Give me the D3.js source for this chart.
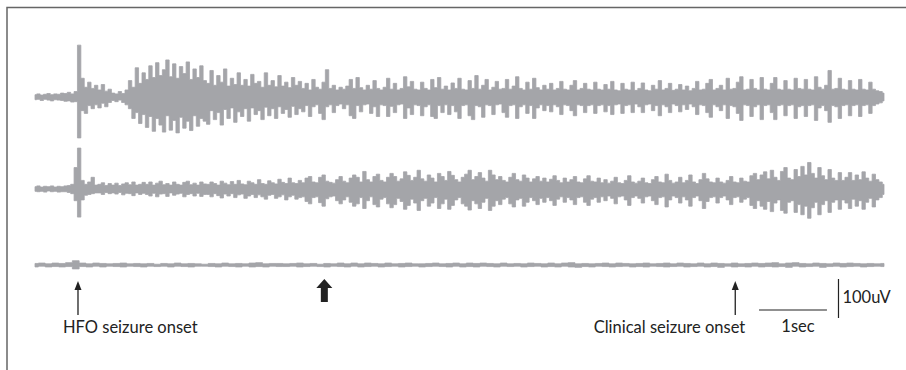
<!DOCTYPE html>
<html>
<head>
<meta charset="utf-8">
<script src="https://cdn.jsdelivr.net/npm/d3@7"></script>
<style>
  html, body { margin: 0; padding: 0; background: #fff; }
  svg { display: block; }
</style>
</head>
<body>
<div id="chart"></div>
<script>
// sampled envelope of each trace (uV above / below baseline), one value every dt seconds
const dt = 0.05;
const ch1Upper = [6, 8, 5, 7, 9, 6, 8, 7, 10, 9, 12, 8, 14, 133,
  48, 25, 38, 22, 30, 18, 32, 15, 20, 10, 8, 14, 9, 18, 42, 25, 75, 35, 62,
  45, 80, 50, 88, 55, 70, 95, 52, 85, 48, 78, 60, 90, 45, 72, 50, 80, 42,
  35, 68, 30, 55, 38, 72, 28, 48, 32, 62, 30, 45, 28, 58, 35, 40, 25, 62, 30, 42, 26, 55, 28, 38, 24, 50, 30, 40,
  22, 35, 18, 45, 25, 20, 38, 70, 22, 30, 18, 25,
  20, 28, 45, 22, 50, 24, 18, 30, 20, 42, 22, 18,
  25, 48, 20, 35, 18, 22, 52, 26, 40, 20, 18, 38,
  22, 18, 45, 24, 50, 20, 28, 18, 36, 22, 48, 20,
  18, 42, 22, 55, 20, 30, 45, 18, 25, 40, 20, 22,
  45, 20, 28, 52, 22, 18, 38, 20, 48, 24, 18, 30,
  20, 35, 18, 22, 40, 20, 18, 30, 42, 18, 22, 35, 20, 18, 38, 20,
  18, 32, 20, 40, 18, 16, 35, 20, 18, 38, 17, 22,
  36, 18, 16, 30, 20, 42, 18, 22, 35, 17, 20, 32,
  18, 28, 16, 22, 40, 18, 20, 35, 45, 18, 22, 30,
  18, 48, 20, 22, 38, 52, 18, 20, 45, 22, 18, 50,
  20, 18, 35, 50, 20, 18, 42, 20, 18, 48, 22, 20,
  45, 20, 18, 52, 25, 20, 30, 68, 20, 22, 48, 20,
  18, 42, 20, 18, 45, 20, 18, 38, 20, 16, 14, 10];
const ch1Lower = [7, 6, 9, 6, 8, 10, 7, 8, 9, 11, 10, 13, 12, 105,
  35, 42, 22, 30, 20, 28, 16, 25, 14, 9, 12, 8, 14, 20, 30, 55, 40, 68, 45,
  78, 50, 88, 55, 72, 90, 48, 85, 60, 92, 52, 80, 62, 86, 48, 75, 55, 62,
  70, 35, 58, 40, 72, 32, 55, 28, 65, 38, 50, 30, 62, 28, 45, 35, 58, 26, 48, 30, 55, 25, 42, 32, 52, 24, 45, 30,
  38, 22, 50, 25, 20, 42, 58, 25, 20, 40, 22, 18,
  30, 20, 48, 55, 22, 38, 20, 18, 42, 25, 50, 20,
  22, 50, 24, 40, 20, 18, 55, 28, 45, 20, 22, 48,
  25, 20, 50, 55, 22, 40, 20, 45, 22, 38, 55, 22,
  20, 48, 58, 22, 25, 52, 20, 22, 45, 20, 18, 40,
  52, 22, 20, 55, 25, 20, 42, 22, 55, 28, 20, 35,
  22, 38, 20, 25, 45, 20, 22, 35, 48, 20, 22, 40, 22, 20, 42, 22,
  20, 38, 22, 45, 20, 18, 42, 22, 20, 40, 18, 25,
  40, 20, 18, 35, 22, 48, 20, 25, 40, 18, 22, 38,
  20, 32, 18, 25, 45, 20, 22, 40, 52, 20, 25, 35,
  20, 55, 22, 25, 42, 60, 20, 22, 50, 25, 20, 58,
  22, 20, 40, 58, 22, 20, 48, 22, 20, 55, 25, 22,
  50, 22, 20, 60, 28, 22, 35, 65, 22, 25, 55, 22,
  20, 48, 22, 20, 50, 22, 20, 42, 22, 18, 15, 10];

const ch2Upper = [6, 8, 5, 7, 6, 8, 5, 7, 6, 8, 9, 12, 55, 105,
  22, 12, 18, 30, 10, 12, 16, 9, 14, 10, 15, 9, 13, 16, 11, 18, 10, 12, 17,
  12, 18, 10, 15, 20, 11, 14, 10, 18, 12, 10, 17, 20, 11, 15, 10, 18, 13,
  12, 18, 14, 10, 20, 15, 11, 19, 12, 22, 13, 11, 20, 16, 12, 24, 14, 12, 21, 16, 13, 25, 17, 14, 28, 16, 14, 22,
  16, 28, 32, 18, 16, 30, 36, 20, 17, 15, 24, 32,
  20, 16, 28, 36, 30, 18, 45, 24, 18, 32, 38, 22,
  18, 30, 40, 32, 20, 26, 44, 35, 22, 30, 48, 26,
  20, 36, 28, 18, 40, 32, 22, 45, 35, 24, 18, 30,
  38, 48, 24, 32, 42, 28, 20, 48, 36, 24, 32, 22,
  18, 30, 40, 24, 20, 36, 28, 18, 26, 32, 20, 28,
  18, 25, 34, 22, 16, 28, 18, 24, 32, 18, 16, 26, 34, 20, 18, 28,
  16, 24, 15, 20, 30, 16, 14, 22, 34, 18, 15, 20,
  28, 16, 14, 24, 32, 18, 16, 38, 22, 15, 18, 30,
  16, 22, 36, 18, 14, 24, 40, 26, 18, 16, 28, 18,
  15, 22, 32, 18, 16, 28, 20, 18, 34, 40, 24, 36,
  44, 26, 48, 30, 22, 45, 55, 28, 24, 50, 32, 58,
  36, 68, 40, 28, 55, 34, 24, 50, 28, 22, 42, 22,
  30, 42, 22, 36, 24, 44, 28, 20, 38, 24, 18, 12];
const ch2Lower = [6, 7, 6, 8, 5, 7, 6, 8, 7, 7, 9, 12, 30, 72,
  28, 16, 14, 12, 10, 10, 14, 9, 12, 10, 13, 9, 15, 11, 12, 17, 10, 14, 11,
  14, 18, 11, 20, 13, 12, 19, 10, 16, 13, 11, 20, 14, 12, 18, 11, 19, 14,
  14, 20, 12, 17, 23, 13, 18, 12, 22, 15, 13, 24, 18, 14, 22, 15, 20, 26, 16, 14, 24, 20, 15, 28, 20, 16, 26, 22,
  20, 32, 38, 22, 20, 35, 44, 25, 20, 18, 30, 38,
  28, 20, 34, 44, 38, 22, 50, 30, 20, 40, 46, 26,
  22, 38, 48, 40, 24, 32, 52, 42, 26, 36, 55, 30,
  24, 44, 36, 22, 50, 38, 26, 52, 42, 28, 22, 38,
  44, 54, 30, 38, 50, 34, 24, 55, 44, 30, 40, 26,
  22, 38, 46, 28, 24, 44, 34, 22, 30, 40, 24, 34,
  22, 30, 42, 26, 20, 34, 22, 28, 40, 22, 20, 34, 42, 26, 22, 34,
  20, 30, 18, 24, 38, 20, 18, 28, 42, 22, 18, 24,
  36, 20, 18, 30, 40, 22, 20, 46, 28, 18, 22, 36,
  20, 28, 44, 22, 18, 30, 50, 32, 22, 20, 36, 22,
  18, 28, 40, 22, 20, 34, 26, 22, 42, 50, 30, 44,
  52, 32, 58, 36, 28, 55, 62, 34, 30, 60, 40, 66,
  44, 75, 48, 34, 66, 40, 30, 60, 34, 28, 52, 28,
  36, 50, 26, 44, 30, 52, 34, 24, 46, 28, 22, 14];

// third channel sampled every 0.1 s
const dt3 = 0.1;
const ch3Upper = [4, 5, 3, 5, 4, 6, 11,
  5, 3, 5, 4, 3, 4, 5, 3, 4, 3,
  4, 2, 4, 3, 5, 3, 4, 3, 2, 4,
  3, 5, 3, 4, 3, 5, 6, 3, 4, 4,
  3, 4, 5, 3, 4, 2, 4, 3, 5, 3,
  5, 3, 5, 4, 3, 5, 3, 4, 5, 3,
  3, 4, 5, 3, 4, 5, 3, 5, 4, 5,
  4, 3, 5, 3, 4, 3, 5, 4, 3, 5,
  3, 5, 6, 3, 4, 3, 4, 5, 3, 5,
  4, 3, 4, 5, 3, 4, 5, 3, 5, 4,
  3, 5, 3, 5, 4, 3, 5, 3, 4, 5,
  4, 5, 6, 3, 5, 6, 4, 3, 5, 4,
  3, 5, 4, 5, 4, 3, 4, 3, 4];
const ch3Lower = [5, 3, 5, 4, 5, 4, 10,
  4, 5, 3, 5, 3, 4, 5, 3, 4, 5,
  3, 4, 3, 5, 3, 4, 5, 3, 3, 4,
  5, 3, 4, 5, 3, 5, 4, 5, 3, 4,
  4, 3, 5, 4, 3, 4, 5, 3, 4, 5,
  3, 5, 4, 3, 5, 4, 3, 5, 4, 3,
  5, 4, 3, 4, 5, 3, 5, 4, 5, 3,
  4, 5, 3, 4, 3, 5, 4, 3, 5, 4,
  5, 3, 5, 6, 4, 5, 3, 4, 5, 4,
  3, 5, 4, 5, 3, 4, 5, 4, 3, 5,
  4, 3, 5, 4, 6, 3, 5, 4, 5, 3,
  5, 4, 5, 4, 6, 3, 5, 4, 3, 6,
  4, 3, 5, 4, 3, 5, 4, 3, 4];

// event markers (seconds) and scale bar
const markerTimes = [0.633, 4.26, 10.31];
const markerLabels = ["HFO seizure onset", "", "Clinical seizure onset"];
const markerKinds = ["thin", "thick", "thin"];
const scaleBarSec = [10.66, 11.66];
const scaleBarUv = 100;

const W = 906, H = 370;
const svg = d3.select("#chart").append("svg")
  .attr("width", W).attr("height", H);

// frame (top and left only)
svg.append("path")
  .attr("d", "M7,370 V7.5 H906")
  .attr("fill", "none")
  .attr("stroke", "#666")
  .attr("stroke-width", 1.5);

const x = d3.scaleLinear().domain([0, 12.5]).range([35, 884]);
// 100 uV = 39 px
const y = d3.scaleLinear().domain([-100, 100]).range([39, -39]);

const channels = [
  {up: ch1Upper, lo: ch1Lower, dt: dt, base: 97},
  {up: ch2Upper, lo: ch2Lower, dt: dt, base: 189},
  {up: ch3Upper, lo: ch3Lower, dt: dt3, base: 265}
];

channels.forEach(ch => {
  const pts = ch.up.map((u, i) => ({t: i * ch.dt, u: u, l: ch.lo[i]}));
  const area = d3.area()
    .curve(d3.curveStep)
    .x(d => x(d.t))
    .y0(d => y(-d.l))
    .y1(d => y(d.u));
  svg.append("g")
    .attr("transform", "translate(0," + ch.base + ")")
    .append("path")
    .datum(pts)
    .attr("d", area)
    .attr("fill", "#a4a5a9")
    .attr("stroke", "#a4a5a9")
    .attr("stroke-width", 0.8);
});

// markers
const ink = "#222";
const font = "Lato, 'Open Sans', sans-serif";
markerTimes.forEach((t, i) => {
  const mx = x(t);
  if (markerKinds[i] === "thin") {
    svg.append("line")
      .attr("x1", mx).attr("x2", mx)
      .attr("y1", 315).attr("y2", 287)
      .attr("stroke", ink).attr("stroke-width", 1.3);
    svg.append("path")
      .attr("d", `M${mx},281 L${mx - 3.5},290 L${mx + 3.5},290 Z`)
      .attr("fill", ink);
  } else {
    svg.append("path")
      .attr("d", `M${mx},279 L${mx + 8},288 L${mx + 3.5},288 L${mx + 3.5},302 L${mx - 3.5},302 L${mx - 3.5},288 L${mx - 8},288 Z`)
      .attr("fill", ink);
  }
  if (markerLabels[i]) {
    const first = i === 0;
    svg.append("text")
      .attr("x", first ? mx - 15 : mx + 10)
      .attr("y", 333)
      .attr("text-anchor", first ? "start" : "end")
      .attr("font-family", font)
      .attr("font-size", 16.5)
      .attr("fill", ink)
      .text(markerLabels[i]);
  }
});

// scale bars
const sx0 = x(scaleBarSec[0]), sx1 = x(scaleBarSec[1]);
svg.append("line")
  .attr("x1", sx0).attr("x2", sx1)
  .attr("y1", 310).attr("y2", 310)
  .attr("stroke", ink).attr("stroke-width", 1.2);
svg.append("text")
  .attr("x", (sx0 + sx1) / 2 + 5).attr("y", 332)
  .attr("text-anchor", "middle")
  .attr("font-family", font)
  .attr("font-size", 16.5).attr("fill", ink)
  .text("1sec");

const vx = x(11.83);
svg.append("line")
  .attr("x1", vx).attr("x2", vx)
  .attr("y1", 318 + y(scaleBarUv)).attr("y2", 318)
  .attr("stroke", ink).attr("stroke-width", 1.2);
svg.append("text")
  .attr("x", vx + 4).attr("y", 303)
  .attr("font-family", font)
  .attr("font-size", 16.5).attr("fill", ink)
  .text("100uV");
</script>
</body>
</html>
